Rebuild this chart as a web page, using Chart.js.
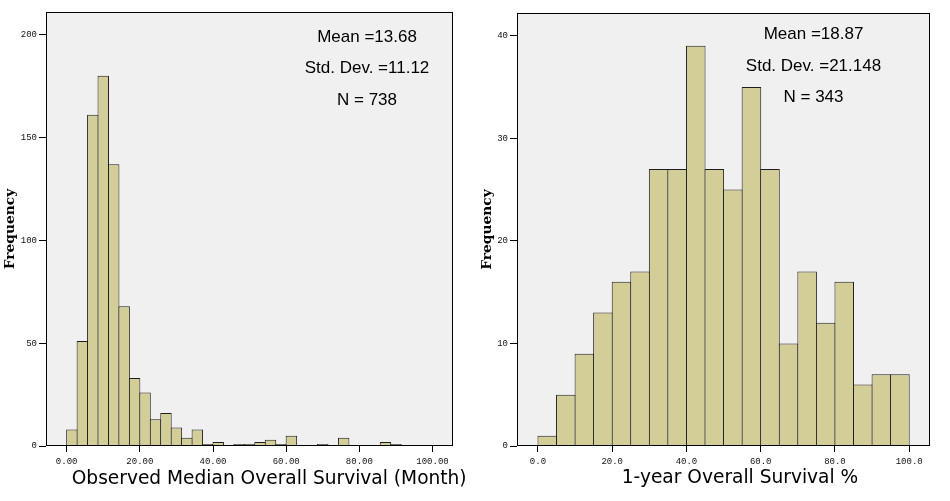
<!DOCTYPE html>
<html><head><meta charset="utf-8">
<script src="https://cdn.jsdelivr.net/npm/chart.js@4.4.0/dist/chart.umd.min.js"></script>
<style>
html,body{margin:0;padding:0;background:#fff;}
#wrap{position:relative;width:950px;height:501px;overflow:hidden;}
#left,#right{position:absolute;top:0;}
#left{left:0;}
#right{left:475px;}
</style></head><body>
<div id="wrap">
<canvas id="left" width="475" height="501"></canvas>
<canvas id="right" width="475" height="501"></canvas>
</div>
<script>
// ---- Left histogram: Observed Median Overall Survival (Month) ----
const survivalBinWidth = 100 / 35;
const survivalCounts = [8, 51, 161, 180, 137, 68, 33, 26, 13, 16, 9, 4, 8, 1, 2, 0, 1, 1, 2, 3, 1, 5, 0, 0, 1, 0, 4, 0, 0, 0, 2, 1];
const survivalXTicks = [0, 20, 40, 60, 80, 100];
const survivalXTickLabels = ['0.00', '20.00', '40.00', '60.00', '80.00', '100.00'];
const survivalYTicks = [0, 50, 100, 150, 200];
const survivalStats = ['Mean =13.68', 'Std. Dev. =11.12', 'N = 738'];
const survivalTitle = 'Observed Median Overall Survival (Month)';

// ---- Right histogram: 1-year Overall Survival % ----
const oneYearBinWidth = 5;
const oneYearCounts = [1, 5, 9, 13, 16, 17, 27, 27, 39, 27, 25, 35, 27, 10, 17, 12, 16, 6, 7, 7];
const oneYearXTicks = [0, 20, 40, 60, 80, 100];
const oneYearXTickLabels = ['0.0', '20.0', '40.0', '60.0', '80.0', '100.0'];
const oneYearYTicks = [0, 10, 20, 30, 40];
const oneYearStats = ['Mean =18.87', 'Std. Dev. =21.148', 'N = 343'];
const oneYearTitle = '1-year Overall Survival %';

const yAxisTitle = 'Frequency';

const decorPlugin = {
  id: 'decor',
  beforeDraw(chart, args, opts) {
    const {ctx, chartArea: a} = chart;
    ctx.save();
    ctx.fillStyle = '#f0f0f0';
    ctx.fillRect(a.left, a.top, a.right - a.left, a.bottom - a.top);
    ctx.restore();
  },
  afterDraw(chart, args, opts) {
    const {ctx, chartArea: a} = chart;
    ctx.save();
    ctx.strokeStyle = '#000';
    ctx.lineWidth = 1;
    ctx.strokeRect(a.left + 0.5, a.top + 0.5, a.right - a.left - 1, a.bottom - a.top - 1);
    ctx.fillStyle = '#000';
    ctx.font = '17px "Liberation Sans", Arial, sans-serif';
    ctx.textAlign = 'center';
    ctx.textBaseline = 'alphabetic';
    opts.stats.forEach((t, i) => ctx.fillText(t, opts.statsX, opts.statsY[i]));
    ctx.font = '18.6px "DejaVu Sans", sans-serif';
    ctx.textAlign = 'left';
    ctx.fillText(opts.title, opts.titleX, opts.titleY);
    ctx.restore();
  }
};

function makeHist(id, cfg) {
  const data = cfg.counts.map((c, i) => ({x: (i + 0.5) * cfg.binWidth, y: c === 0 ? null : c}));
  const tickFont = {family: '"Liberation Mono", "DejaVu Sans Mono", monospace', size: 9};
  return new Chart(document.getElementById(id), {
    type: 'bar',
    data: {
      datasets: [{
        data: data,
        backgroundColor: '#d3ce97',
        borderColor: '#1e1e1e',
        borderWidth: 1,
        borderSkipped: 'start',
        barPercentage: cfg.barPct,
        categoryPercentage: 1
      }]
    },
    options: {
      responsive: false,
      animation: false,
      devicePixelRatio: 1,
      layout: {padding: {left: 0, right: cfg.padRight, top: cfg.padTop, bottom: 0}},
      plugins: {
        legend: {display: false},
        tooltip: {enabled: false},
        decor: {stats: cfg.stats, statsX: cfg.statsX, statsY: cfg.statsY, title: cfg.title, titleX: cfg.titleX, titleY: cfg.titleY}
      },
      scales: {
        x: {
          type: 'linear',
          min: -5.65,
          max: 105.6,
          offset: false,
          afterBuildTicks: s => { s.ticks = cfg.xTicks.map(v => ({value: v})); },
          afterFit: s => { s.height = 55; },
          ticks: {
            callback: (v, i) => cfg.xLabels[i],
            font: tickFont, color: '#111', padding: 4, maxRotation: 0, autoSkip: false
          },
          grid: {offset: false, drawOnChartArea: false, drawTicks: true, tickLength: 6, color: '#000', lineWidth: 1},
          border: {display: false}
        },
        y: {
          min: 0,
          max: cfg.yMax,
          afterBuildTicks: s => { s.ticks = cfg.yTicks.map(v => ({value: v})); },
          afterFit: s => { s.width = cfg.yWidth; },
          ticks: {font: tickFont, color: '#111', padding: 2},
          grid: {drawOnChartArea: false, drawTicks: true, tickLength: 7, color: '#000', lineWidth: 1},
          border: {display: false},
          title: {
            display: true, text: yAxisTitle, color: '#000',
            font: {family: '"DejaVu Serif", serif', weight: 'bold', size: 13.8},
            padding: {top: cfg.yTitlePad, bottom: 0}
          }
        }
      }
    },
    plugins: [decorPlugin]
  });
}

makeHist('left', {
  counts: survivalCounts, binWidth: survivalBinWidth,
  xTicks: survivalXTicks, xLabels: survivalXTickLabels,
  yTicks: survivalYTicks, yMax: 211,
  stats: survivalStats, statsX: 367, statsY: [41.7, 73.3, 105],
  title: survivalTitle, titleX: 71.7, titleY: 484,
  padRight: 22, padTop: 12, yWidth: 46, yTitlePad: 2.2, barPct: 1.0957
});

makeHist('right', {
  counts: oneYearCounts, binWidth: oneYearBinWidth,
  xTicks: oneYearXTicks, xLabels: oneYearXTickLabels,
  yTicks: oneYearYTicks, yMax: 42.2,
  stats: oneYearStats, statsX: 338.5, statsY: [39, 70.7, 101.7],
  title: oneYearTitle, titleX: 146.7, titleY: 483,
  padRight: 20, padTop: 13, yWidth: 42, yTitlePad: 4.2, barPct: 1.054
});
</script>
</body></html>
